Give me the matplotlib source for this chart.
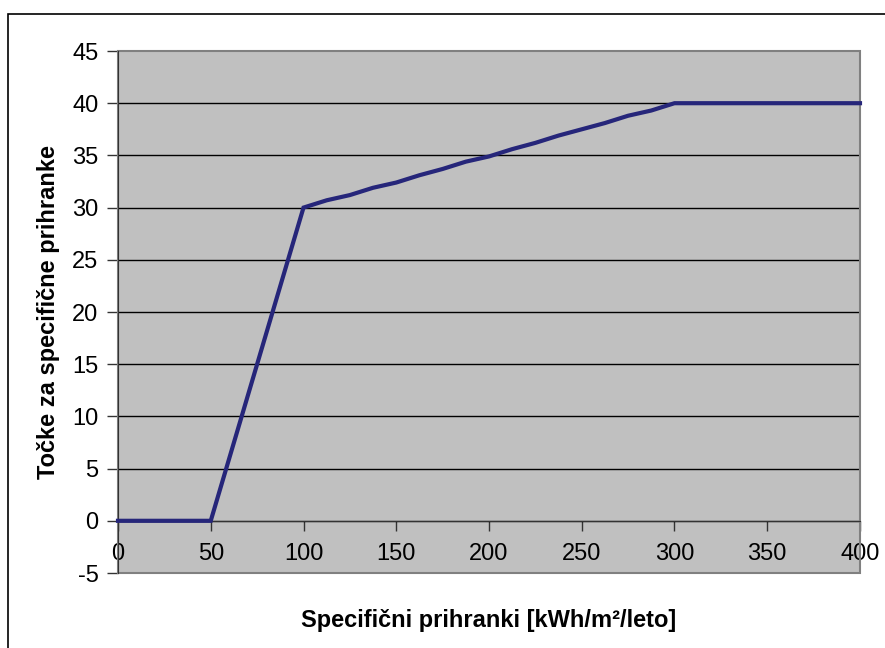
import matplotlib.pyplot as plt
from matplotlib.patches import Rectangle

plt.rcParams['font.family'] = ['Liberation Sans', 'DejaVu Sans']
plt.rcParams['axes.unicode_minus'] = False

# savings (kWh/m2/year) and points
prihranki = [0, 50, 100, 112.5, 125, 137.5, 150, 162.5, 175, 187.5, 200,
             212.5, 225, 237.5, 250, 262.5, 275, 287.5, 300, 400]
tocke = [0, 0, 30, 30.7, 31.2, 31.9, 32.4, 33.1, 33.7, 34.4, 34.9,
         35.6, 36.2, 36.9, 37.5, 38.1, 38.8, 39.3, 40, 40]

x_ticks = [0, 50, 100, 150, 200, 250, 300, 350, 400]
y_ticks = [-5, 0, 5, 10, 15, 20, 25, 30, 35, 40, 45]

fig = plt.figure(figsize=(8.85, 6.48), dpi=100)
ax = fig.add_axes([118 / 885, 1 - 573 / 648, 742 / 885, 522 / 648])

ax.set_facecolor('#c0c0c0')
ax.plot(prihranki, tocke, color='#26267a', lw=3, clip_on=False,
        solid_joinstyle='miter', zorder=5)

ax.set_xlim(0, 400)
ax.set_ylim(-5, 45)
ax.set_xticks(x_ticks)
ax.set_yticks(y_ticks)

ax.yaxis.grid(True, color='black', lw=1)
gl = ax.get_ygridlines()
gl[0].set_visible(False)
gl[-1].set_visible(False)
ax.set_axisbelow(True)

for s in ['top', 'right']:
    ax.spines[s].set_visible(False)
ax.spines['left'].set_color('#333333')
ax.spines['bottom'].set_position(('data', 0))
ax.spines['bottom'].set_color('#333333')

# plot area border
ax.add_patch(Rectangle((0, 0), 1, 1, transform=ax.transAxes, fill=False,
                       edgecolor='#808080', lw=1.5, clip_on=False, zorder=1))

ax.tick_params(axis='y', direction='out', length=8, width=1, color='#333333',
               labelsize=17, pad=6)
ax.tick_params(axis='x', direction='out', length=7, width=1, color='#333333',
               labelsize=17, pad=9)

ax.set_ylabel('Točke za specifične prihranke', fontsize=17,
              fontweight='bold', labelpad=9)
ax.set_xlabel('Specifični prihranki [kWh/m²/leto]', fontsize=17,
              fontweight='bold', labelpad=32)

# outer chart frame
fig.patches.append(Rectangle((8 / 885, -0.1), 1.2, 1.1 - 14 / 648,
                             transform=fig.transFigure, fill=False,
                             edgecolor='black', lw=1.2))

fig.savefig('out.png', dpi=100)
